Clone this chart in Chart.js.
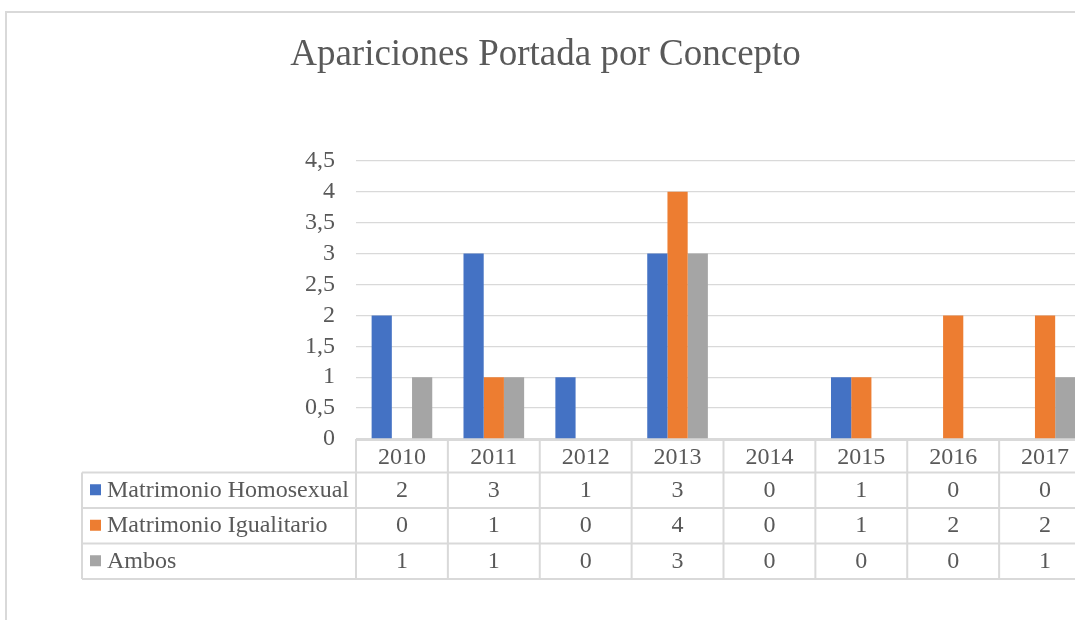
<!DOCTYPE html>
<html>
<head>
<meta charset="utf-8">
<script src="https://cdn.jsdelivr.net/npm/chart.js@4.4.1/dist/chart.umd.min.js"></script>
<style>
  html, body { margin: 0; padding: 0; background: #ffffff; overflow: hidden; width: 1075px; height: 620px; }
  #wrap { position: absolute; left: 0; top: 0; width: 1100px; height: 620px; }
</style>
</head>
<body>
<div id="wrap"><canvas id="c" width="1100" height="620"></canvas></div>
<script>
const categories = ['2010', '2011', '2012', '2013', '2014', '2015', '2016', '2017'];
const seriesNames = ['Matrimonio Homosexual', 'Matrimonio Igualitario', 'Ambos'];
const homosexual = [2, 3, 1, 3, 0, 1, 0, 0];
const igualitario = [0, 1, 0, 4, 0, 1, 2, 2];
const ambos = [1, 1, 0, 3, 0, 0, 0, 1];
const yTicks = [0, 0.5, 1, 1.5, 2, 2.5, 3, 3.5, 4, 4.5];
const colors = ['#4472C4', '#ED7D31', '#A5A5A5'];
const titleText = 'Apariciones Portada por Concepto';

const FONT = "'Liberation Serif', 'Times New Roman', serif";
const TEXT = '#595959';
const LINE = '#d9d9d9';

const seriesValues = [homosexual, igualitario, ambos];

const tablePlugin = {
  id: 'dataTable',
  beforeDraw(chart) {
    const ctx = chart.ctx;
    ctx.save();
    ctx.strokeStyle = LINE;
    ctx.lineWidth = 2;
    ctx.strokeRect(6, 12, 3000, 3000);
    ctx.restore();
  },
  afterDraw(chart) {
    const ctx = chart.ctx;
    const ca = chart.chartArea;
    const xs = chart.scales.x;
    const n = categories.length;
    const cw = (ca.right - ca.left) / n;
    const top = ca.bottom;
    const hdrB = top + 33.5;
    const rowH = 35.5;
    const rows = seriesNames.length;
    const bottom = hdrB + rowH * rows;
    const leftX = 82;

    ctx.save();
    ctx.strokeStyle = LINE;
    ctx.lineWidth = 2;
    ctx.beginPath();
    ctx.moveTo(ca.left, top + 1);
    ctx.lineTo(ca.right + 20, top + 1);
    for (let r = 0; r <= rows; r++) {
      const y = hdrB + r * rowH;
      ctx.moveTo(leftX, y);
      ctx.lineTo(ca.right + 20, y);
    }
    for (let j = 0; j <= n; j++) {
      const x = ca.left + j * cw;
      ctx.moveTo(x, top);
      ctx.lineTo(x, bottom);
    }
    ctx.moveTo(leftX, hdrB);
    ctx.lineTo(leftX, bottom);
    ctx.stroke();

    ctx.fillStyle = TEXT;
    ctx.font = '24px ' + FONT;
    ctx.textBaseline = 'middle';
    for (let r = 0; r < rows; r++) {
      const yc = hdrB + r * rowH + rowH / 2;
      ctx.textAlign = 'center';
      for (let j = 0; j < n; j++) {
        ctx.fillText(String(seriesValues[r][j]), xs.getPixelForValue(j), yc);
      }
      ctx.fillStyle = colors[r];
      ctx.fillRect(90, yc - 6, 11, 11);
      ctx.fillStyle = TEXT;
      ctx.textAlign = 'left';
      ctx.fillText(seriesNames[r], 107, yc);
    }
    ctx.restore();
  }
};

new Chart(document.getElementById('c'), {
  type: 'bar',
  data: {
    labels: categories,
    datasets: seriesNames.map((name, i) => ({
      label: name,
      data: seriesValues[i],
      backgroundColor: colors[i],
      borderWidth: 0,
      categoryPercentage: 0.66,
      barPercentage: 1.0
    }))
  },
  options: {
    responsive: false,
    animation: false,
    devicePixelRatio: 1,
    layout: { padding: { left: 0, right: 9, top: 0, bottom: 0 } },
    plugins: {
      legend: { display: false },
      tooltip: { enabled: false },
      title: {
        display: true,
        text: titleText,
        color: TEXT,
        font: { family: FONT, size: 37, weight: 'normal' },
        padding: { top: 33, bottom: 83.5 }
      }
    },
    scales: {
      x: {
        grid: { display: true, drawOnChartArea: false, drawTicks: false },
        border: { display: false },
        ticks: {
          color: TEXT,
          font: { family: FONT, size: 24 },
          padding: 4,
          maxRotation: 0,
          autoSkip: false
        },
        afterFit(s) { s.height = 620 - 439; }
      },
      y: {
        min: 0,
        max: 4.5,
        afterBuildTicks(s) { s.ticks = yTicks.map(v => ({ value: v })); },
        grid: { color: LINE, lineWidth: 1.3, drawTicks: false },
        border: { display: false },
        ticks: {
          color: TEXT,
          font: { family: FONT, size: 24 },
          padding: 21,
          autoSkip: false,
          callback: v => String(v).replace('.', ',')
        },
        afterFit(s) { s.width = 356; }
      }
    }
  },
  plugins: [tablePlugin]
});
</script>
</body>
</html>
